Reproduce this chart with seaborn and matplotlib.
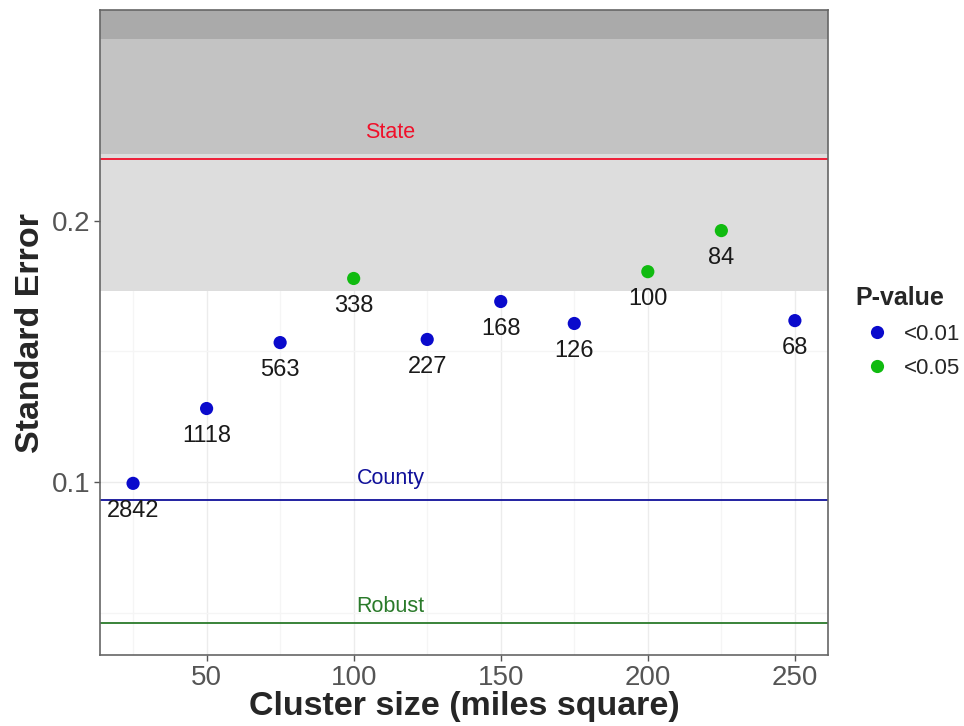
import matplotlib
matplotlib.use("Agg")
import matplotlib.pyplot as plt
import seaborn as sns
import pandas as pd

cluster_size = [25, 50, 75, 100, 125, 150, 175, 200, 225, 250]
std_error = [0.0996, 0.1282, 0.1534, 0.1779, 0.1546, 0.1691, 0.1607, 0.1805, 0.1962, 0.1618]
n_clusters = [2842, 1118, 563, 338, 227, 168, 126, 100, 84, 68]
p_value = ["<0.01", "<0.01", "<0.01", "<0.05", "<0.01", "<0.01", "<0.01", "<0.05", "<0.05", "<0.01"]

ref_names = ["State", "County", "Robust"]
ref_values = [0.2237, 0.0931, 0.0462]
ref_label_gap = [0.0100, 0.0085, 0.0065]
ref_colors = ["#f0102a", "#10109a", "#2a7a2a"]

band_low = [0.1733, 0.2255, 0.2695]
band_high = [0.2255, 0.2695, 0.29]
band_colors = ["#dddddd", "#c3c3c3", "#aaaaaa"]

df = pd.DataFrame({"size": cluster_size, "se": std_error, "n": n_clusters, "P-value": p_value})

sns.set_style("white")
plt.rcParams["font.family"] = ["Liberation Sans", "DejaVu Sans"]

fig = plt.figure(figsize=(9.64, 7.26), dpi=100)
ax = fig.add_axes([0.1037, 0.0978, 0.7552, 0.8884])

# faint theme_bw style grid, under the shaded bands
for x in range(25, 275, 25):
    ax.axvline(x, color="#ececec" if x % 50 == 0 else "#f5f5f5", lw=1, zorder=0.1)
for y in [0.05, 0.1, 0.15, 0.2, 0.25]:
    ax.axhline(y, color="#ececec" if round(y * 100) % 10 == 0 else "#f5f5f5", lw=1, zorder=0.1)

for lo, hi, c in zip(band_low, band_high, band_colors):
    ax.axhspan(lo, hi, color=c, lw=0, zorder=0.2)

for name, val, gap, c in zip(ref_names, ref_values, ref_label_gap, ref_colors):
    ax.axhline(val, color=c, lw=1.3, zorder=2)
    ax.text(112.5, val + gap, name, color=c, fontsize=15.5, ha="center", va="center", zorder=3)

sns.scatterplot(data=df, x="size", y="se", hue="P-value",
                palette={"<0.01": "#0a0acc", "<0.05": "#10bb10"},
                s=90, edgecolor="none", ax=ax, zorder=4)

for x, y, n in zip(cluster_size, std_error, n_clusters):
    ax.annotate(str(n), (x, y), xytext=(0, -20), textcoords="offset points",
                ha="center", va="center", fontsize=17, color="#1a1a1a", zorder=5)

ax.set_xlim(13.75, 261.25)
ax.set_ylim(0.034, 0.2805)
ax.set_xticks([50, 100, 150, 200, 250])
ax.set_yticks([0.1, 0.2])
ax.set_yticklabels(["0.1", "0.2"])
ax.tick_params(axis="both", labelsize=20, labelcolor="#555555", color="#555555",
               length=4, width=1, pad=3, direction="out", left=True, bottom=True)
for sp in ax.spines.values():
    sp.set_color("#666666")
    sp.set_linewidth(1.2)

ax.set_xlabel("Cluster size (miles square)", fontsize=24.5, fontweight="bold", labelpad=0)
ax.set_ylabel("Standard Error", fontsize=24.5, fontweight="bold", labelpad=4)

leg = ax.legend(title="P-value", loc="center left", bbox_to_anchor=(1.01, 0.50),
                frameon=False, fontsize=16, title_fontsize=18, handletextpad=0.2,
                labelspacing=0.6, markerscale=1.0)
leg.get_title().set_fontweight("bold")
leg._legend_box.align = "left"

fig.savefig("out.png", dpi=100)
